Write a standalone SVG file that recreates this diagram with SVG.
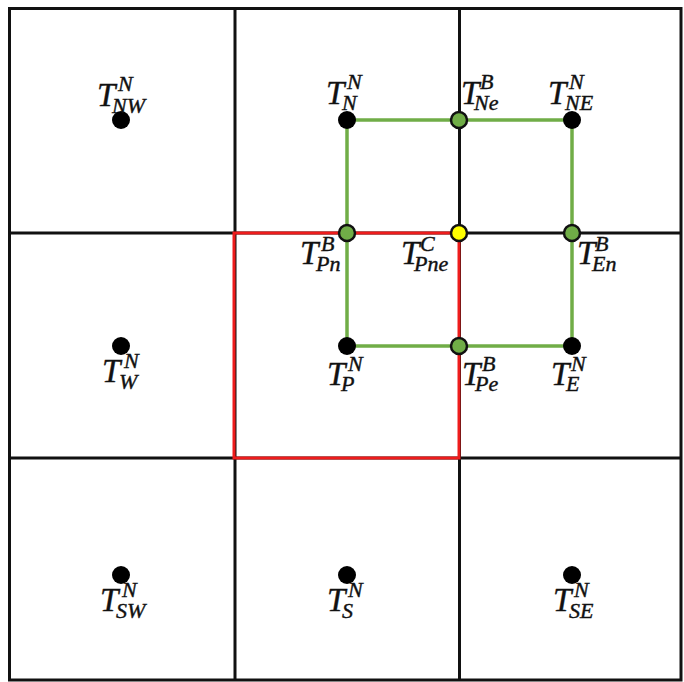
<svg xmlns="http://www.w3.org/2000/svg" width="684" height="682" viewBox="0 0 684 682">
<style>
.grid{stroke:#111;stroke-width:3;fill:none}
.red{stroke:#ee1c1c;stroke-width:3;fill:none}
.grn{stroke:#70ad47;stroke-width:3.5;fill:none}
.nd{fill:#000}
.bd{fill:#70ad47;stroke:#111;stroke-width:2.5}
.cd{fill:#ffff00;stroke:#111;stroke-width:2.5}
text{font-family:"Liberation Serif","Times New Roman",serif;font-style:italic;fill:#111;stroke:#111;stroke-width:0.4}
.t{font-size:33px}
.s{font-size:22px}
</style>
<rect width="684" height="682" fill="#fff"/>
<g id="grid" class="grid">
<rect x="9.5" y="8.5" width="671.5" height="671.5"/>
<line x1="235" y1="8.5" x2="235" y2="680"/>
<line x1="459.5" y1="8.5" x2="459.5" y2="680"/>
<line x1="9.5" y1="233" x2="681" y2="233"/>
<line x1="9.5" y1="458" x2="681" y2="458"/>
</g>
<g id="cellP"><rect class="red" x="234" y="233" width="225" height="225"/></g>
<g id="connectors" class="grn">
<rect x="347" y="120" width="225" height="226"/>
</g>
<g id="NW"><circle class="nd" cx="121" cy="120" r="9"/><text><tspan class="t" x="97" y="106">T</tspan><tspan class="s" x="118" y="91">N</tspan><tspan class="s" x="112" y="113">NW</tspan></text></g>
<g id="N"><circle class="nd" cx="347" cy="120" r="9"/><text><tspan class="t" x="326" y="104">T</tspan><tspan class="s" x="347" y="89">N</tspan><tspan class="s" x="342" y="110">N</tspan></text></g>
<g id="Ne"><circle class="bd" cx="459" cy="120" r="8"/><text><tspan class="t" x="461" y="104">T</tspan><tspan class="s" x="480" y="89">B</tspan><tspan class="s" x="474" y="110">Ne</tspan></text></g>
<g id="NE"><circle class="nd" cx="572" cy="120" r="9"/><text><tspan class="t" x="548" y="104">T</tspan><tspan class="s" x="569" y="89">N</tspan><tspan class="s" x="565" y="110">NE</tspan></text></g>
<g id="Pn"><circle class="bd" cx="347" cy="233" r="8"/><text><tspan class="t" x="300" y="264">T</tspan><tspan class="s" x="321" y="251">B</tspan><tspan class="s" x="316" y="271">Pn</tspan></text></g>
<g id="Pne"><circle class="cd" cx="459" cy="233" r="8"/><text><tspan class="t" x="401" y="264">T</tspan><tspan class="s" x="420" y="251">C</tspan><tspan class="s" x="414" y="271">Pne</tspan></text></g>
<g id="En"><circle class="bd" cx="572" cy="233" r="8"/><text><tspan class="t" x="577" y="264">T</tspan><tspan class="s" x="595" y="251">B</tspan><tspan class="s" x="592" y="271">En</tspan></text></g>
<g id="W"><circle class="nd" cx="121" cy="346" r="9"/><text><tspan class="t" x="102" y="382">T</tspan><tspan class="s" x="124" y="368">N</tspan><tspan class="s" x="119" y="389">W</tspan></text></g>
<g id="P"><circle class="nd" cx="347" cy="346" r="9"/><text><tspan class="t" x="327" y="385">T</tspan><tspan class="s" x="348" y="371">N</tspan><tspan class="s" x="341" y="391">P</tspan></text></g>
<g id="Pe"><circle class="bd" cx="459" cy="346" r="8"/><text><tspan class="t" x="462" y="385">T</tspan><tspan class="s" x="482" y="371">B</tspan><tspan class="s" x="475" y="391">Pe</tspan></text></g>
<g id="E"><circle class="nd" cx="572" cy="346" r="9"/><text><tspan class="t" x="551" y="385">T</tspan><tspan class="s" x="571" y="371">N</tspan><tspan class="s" x="566" y="391">E</tspan></text></g>
<g id="SW"><circle class="nd" cx="121" cy="575" r="9"/><text><tspan class="t" x="100" y="611">T</tspan><tspan class="s" x="122" y="597">N</tspan><tspan class="s" x="116" y="618">SW</tspan></text></g>
<g id="S"><circle class="nd" cx="347" cy="575" r="9"/><text><tspan class="t" x="327" y="611">T</tspan><tspan class="s" x="348" y="597">N</tspan><tspan class="s" x="342" y="618">S</tspan></text></g>
<g id="SE"><circle class="nd" cx="572" cy="575" r="9"/><text><tspan class="t" x="553" y="611">T</tspan><tspan class="s" x="574" y="597">N</tspan><tspan class="s" x="569" y="618">SE</tspan></text></g>
</svg>
